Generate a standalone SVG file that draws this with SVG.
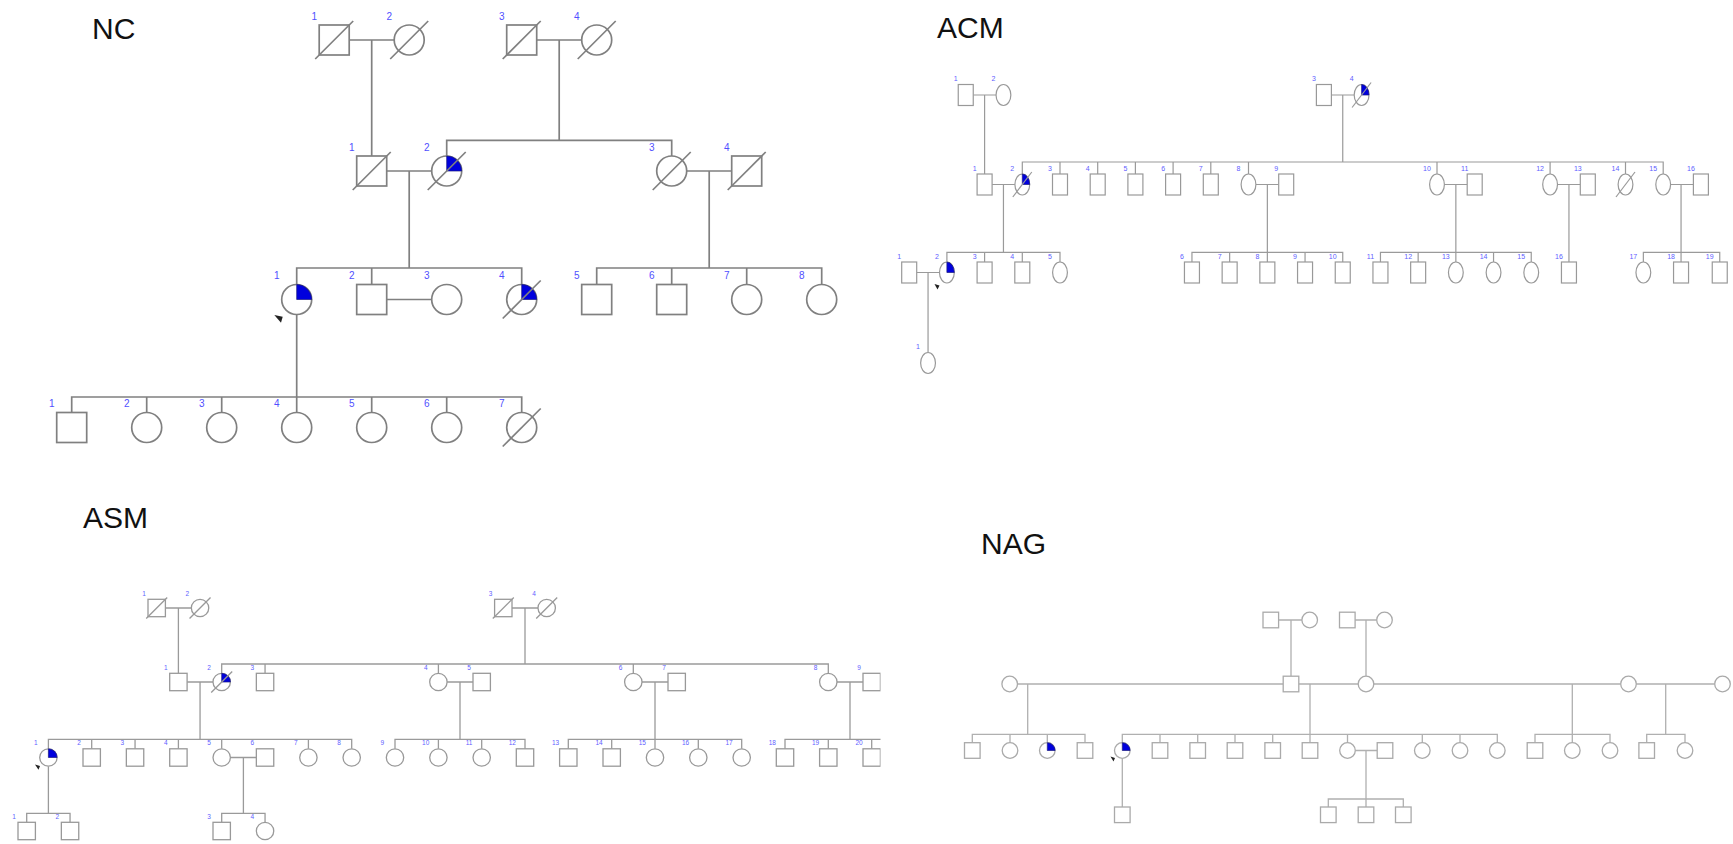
<svg xmlns="http://www.w3.org/2000/svg" xmlns:xlink="http://www.w3.org/1999/xlink" width="1733" height="844" viewBox="0 0 1733 844">
<style>
.title{font-family:"Liberation Sans",Arial,sans-serif;font-size:30px;fill:#111}
.cnc{fill:none;stroke:#808080;stroke-width:1.7}
.cac{fill:none;stroke:#9a9a9a;stroke-width:1.2}
.cas{fill:none;stroke:#9a9a9a;stroke-width:1.3}
.cng{fill:none;stroke:#b0b0b0;stroke-width:1.3}
.nc{fill:#fff;stroke:#808080;stroke-width:1.7}
.ac{fill:#fff;stroke:#999;stroke-width:1.2}
.as{fill:#fff;stroke:#999;stroke-width:1.3}
.ng{fill:#fff;stroke:#aaa;stroke-width:1.3}
.aff{fill:#0000dd;stroke:#1a1a80;stroke-width:0.7}
.pb{fill:#222}
.lnc{font-family:"Liberation Sans",Arial,sans-serif;font-size:10px;fill:#5050ff;text-anchor:middle}
.lac{font-family:"Liberation Sans",Arial,sans-serif;font-size:7px;fill:#6060ff;text-anchor:middle}
.las{font-family:"Liberation Sans",Arial,sans-serif;font-size:6.5px;fill:#6060ff;text-anchor:middle}
</style>
<defs>
<rect id="nS" x="-15" y="-15" width="30" height="30"/>
<circle id="nC" r="15"/>
<line id="nD" x1="-19" y1="19" x2="19" y2="-19"/>
<path id="nA" d="M0 0V-15A15 15 0 0 1 15 0Z"/>
<rect id="aS" x="-7.5" y="-10.5" width="15" height="21"/>
<ellipse id="aC" rx="7.4" ry="10.5"/>
<line id="aD" x1="-9.5" y1="12.5" x2="9.5" y2="-12.5"/>
<path id="aA" d="M0 0V-10.5A7.4 10.5 0 0 1 7.4 0Z"/>
<rect id="sS" x="-8.7" y="-8.7" width="17.4" height="17.4"/>
<circle id="sC" r="8.7"/>
<line id="sD" x1="-10.5" y1="10.5" x2="10.5" y2="-10.5"/>
<path id="sA" d="M0 0V-8.7A8.7 8.7 0 0 1 8.7 0Z"/>
<rect id="gS" x="-7.8" y="-7.8" width="15.6" height="15.6"/>
<circle id="gC" r="7.8"/>
<path id="gA" d="M0 0V-7.8A7.8 7.8 0 0 1 7.8 0Z"/>
<clipPath id="asmClip"><rect x="0" y="480" width="880.5" height="364"/></clipPath>
</defs>

<g id="titles">
<text class="title" x="92" y="39">NC</text>
<text class="title" x="937" y="38">ACM</text>
<text class="title" x="83" y="528">ASM</text>
<text class="title" x="981" y="554">NAG</text>
</g>

<g id="connectors">
<path class="cnc" d="M349.2 40H394.2M371.7 40V156M536.7 40H581.7M559.2 40V140.4M446.7 156V140.4H671.7V156M386.7 171H431.7M409.2 171V268M686.7 171H731.7M709.2 171V268M296.7 284.5V268H521.7V284.5M371.7 268V284.5M386.7 299.5H431.7M596.7 284.5V268H821.7V284.5M671.7 268V284.5M746.7 268V284.5M296.7 314.5V397M71.7 412.5V397H521.7V412.5M146.7 397V412.5M221.7 397V412.5M296.7 397V412.5M371.7 397V412.5M446.7 397V412.5"/>
<path class="cac" d="M973.25 95H996.05M984.6 95V174M1331.4 95H1354.2M1342.75 95V162M1022.3 174V162H1663.2V174M1060 162V174M1097.7 162V174M1135.4 162V174M1173.1 162V174M1210.8 162V174M1248.5 162V174M1437 162V174M1550.1 162V174M1625.5 162V174M992.1 184.5H1014.9M1255.9 184.5H1278.7M1444.4 184.5H1467.2M1557.5 184.5H1580.3M1670.6 184.5H1693.4M1003.45 184.5V252.3M1267.35 184.5V252.3M1455.85 184.5V252.3M1568.95 184.5V262M1681.05 184.5V252.3M946.9 262V252.3H1060V262M984.6 252.3V262M1022.3 252.3V262M1191.95 262V252.3H1342.75V262M1229.65 252.3V262M1267.35 252.3V262M1305.05 252.3V262M1380.45 262V252.3H1531.25V262M1418.15 252.3V262M1455.85 252.3V262M1493.55 252.3V262M1643.35 262V252.3H1719.75V262M1681.05 252.3V262M916.7 272.5H939.5M928.05 272.5V352.5"/>
<path class="cas" d="M165.4 608H191.35M178.4 608V673.3M512 608H538M525 608V664M221.7 673.3V664H828.3V673.3M265.05 664V673.3M438.4 664V673.3M633.3 664V673.3M187.1 682H213M447.1 682H473M642 682H668M837 682H863M200.05 682V739.3M460 682V739.3M655 682V739.3M850 682V739.3M48.4 748.8V739.3H351.7V748.8M91.7 739.3V748.8M135.05 739.3V748.8M178.4 739.3V748.8M221.7 739.3V748.8M308.4 739.3V748.8M395 748.8V739.3H525V748.8M438.4 739.3V748.8M481.7 739.3V748.8M568.3 748.8V739.3H741.7V748.8M611.7 739.3V748.8M655 739.3V748.8M698.3 739.3V748.8M230.4 757.5H256.35M243.4 757.5V813.3M48.4 766.2V813.3M26.7 822.3V813.3H70.05V822.3M221.7 822.3V813.3H265.05V822.3"/>
<path class="cas" clip-path="url(#asmClip)" d="M785 748.8V739.3H885M828.3 739.3V748.8M871.7 739.3V748.8"/>
<path class="cng" d="M1278.6 620H1301.9M1291 620V676.2M1355.1 620H1376.7M1366 620V676.2M1017.5 684H1283.2M1298.8 684H1358.2M1373.8 684H1620.7M1636.3 684H1714.7M1027.7 684V734.3M1310 684V734.3M1572.3 684V734.3M1665.7 684V734.3M972.3 742.7V734.3H1085V742.7M1010 734.3V742.7M1047.3 734.3V742.7M1122.3 742.7V734.3H1497.3V742.7M1160 734.3V742.7M1197.7 734.3V742.7M1235 734.3V742.7M1272.7 734.3V742.7M1310 734.3V742.7M1347.5 734.3V742.7M1422.3 734.3V742.7M1460 734.3V742.7M1535 742.7V734.3H1610V742.7M1572.3 734.3V742.7M1646.7 742.7V734.3H1685V742.7M1355.3 750.5H1377.2M1366 750.5V799M1328.3 807V799H1403.3V807M1366 799V807M1122.3 758.3V807"/>
</g>

<g id="NC">
<g id="nc-I-1"><use href="#nS" x="334.2" y="40" class="nc"/><use href="#nD" x="334.2" y="40" class="nc"/><text class="lnc" x="314.2" y="19.5">1</text></g>
<g id="nc-I-2"><use href="#nC" x="409.2" y="40" class="nc"/><use href="#nD" x="409.2" y="40" class="nc"/><text class="lnc" x="389.2" y="19.5">2</text></g>
<g id="nc-I-3"><use href="#nS" x="521.7" y="40" class="nc"/><use href="#nD" x="521.7" y="40" class="nc"/><text class="lnc" x="501.7" y="19.5">3</text></g>
<g id="nc-I-4"><use href="#nC" x="596.7" y="40" class="nc"/><use href="#nD" x="596.7" y="40" class="nc"/><text class="lnc" x="576.7" y="19.5">4</text></g>
<g id="nc-II-1"><use href="#nS" x="371.7" y="171" class="nc"/><use href="#nD" x="371.7" y="171" class="nc"/><text class="lnc" x="351.7" y="150.5">1</text></g>
<g id="nc-II-2"><use href="#nC" x="446.7" y="171" class="nc"/><use href="#nA" x="446.7" y="171" class="aff"/><use href="#nD" x="446.7" y="171" class="nc"/><text class="lnc" x="426.7" y="150.5">2</text></g>
<g id="nc-II-3"><use href="#nC" x="671.7" y="171" class="nc"/><use href="#nD" x="671.7" y="171" class="nc"/><text class="lnc" x="651.7" y="150.5">3</text></g>
<g id="nc-II-4"><use href="#nS" x="746.7" y="171" class="nc"/><use href="#nD" x="746.7" y="171" class="nc"/><text class="lnc" x="726.7" y="150.5">4</text></g>
<g id="nc-III-1"><use href="#nC" x="296.7" y="299.5" class="nc"/><use href="#nA" x="296.7" y="299.5" class="aff"/><polygon class="pb" points="274.3,315 282.7,316.7 281,322.7"/><text class="lnc" x="276.7" y="278.5">1</text></g>
<g id="nc-III-2"><use href="#nS" x="371.7" y="299.5" class="nc"/><text class="lnc" x="351.7" y="278.5">2</text></g>
<g id="nc-III-3"><use href="#nC" x="446.7" y="299.5" class="nc"/><text class="lnc" x="426.7" y="278.5">3</text></g>
<g id="nc-III-4"><use href="#nC" x="521.7" y="299.5" class="nc"/><use href="#nA" x="521.7" y="299.5" class="aff"/><use href="#nD" x="521.7" y="299.5" class="nc"/><text class="lnc" x="501.7" y="278.5">4</text></g>
<g id="nc-III-5"><use href="#nS" x="596.7" y="299.5" class="nc"/><text class="lnc" x="576.7" y="278.5">5</text></g>
<g id="nc-III-6"><use href="#nS" x="671.7" y="299.5" class="nc"/><text class="lnc" x="651.7" y="278.5">6</text></g>
<g id="nc-III-7"><use href="#nC" x="746.7" y="299.5" class="nc"/><text class="lnc" x="726.7" y="278.5">7</text></g>
<g id="nc-III-8"><use href="#nC" x="821.7" y="299.5" class="nc"/><text class="lnc" x="801.7" y="278.5">8</text></g>
<g id="nc-IV-1"><use href="#nS" x="71.7" y="427.5" class="nc"/><text class="lnc" x="51.7" y="406.5">1</text></g>
<g id="nc-IV-2"><use href="#nC" x="146.7" y="427.5" class="nc"/><text class="lnc" x="126.7" y="406.5">2</text></g>
<g id="nc-IV-3"><use href="#nC" x="221.7" y="427.5" class="nc"/><text class="lnc" x="201.7" y="406.5">3</text></g>
<g id="nc-IV-4"><use href="#nC" x="296.7" y="427.5" class="nc"/><text class="lnc" x="276.7" y="406.5">4</text></g>
<g id="nc-IV-5"><use href="#nC" x="371.7" y="427.5" class="nc"/><text class="lnc" x="351.7" y="406.5">5</text></g>
<g id="nc-IV-6"><use href="#nC" x="446.7" y="427.5" class="nc"/><text class="lnc" x="426.7" y="406.5">6</text></g>
<g id="nc-IV-7"><use href="#nC" x="521.7" y="427.5" class="nc"/><use href="#nD" x="521.7" y="427.5" class="nc"/><text class="lnc" x="501.7" y="406.5">7</text></g>
</g>

<g id="ACM">
<g id="acm-I-1"><use href="#aS" x="965.75" y="95" class="ac"/><text class="lac" x="955.75" y="81">1</text></g>
<g id="acm-I-2"><use href="#aC" x="1003.45" y="95" class="ac"/><text class="lac" x="993.45" y="81">2</text></g>
<g id="acm-I-3"><use href="#aS" x="1323.9" y="95" class="ac"/><text class="lac" x="1313.9" y="81">3</text></g>
<g id="acm-I-4"><use href="#aC" x="1361.6" y="95" class="ac"/><use href="#aA" x="1361.6" y="95" class="aff"/><use href="#aD" x="1361.6" y="95" class="ac"/><text class="lac" x="1351.6" y="81">4</text></g>
<g id="acm-II-1"><use href="#aS" x="984.6" y="184.5" class="ac"/><text class="lac" x="974.6" y="170.5">1</text></g>
<g id="acm-II-2"><use href="#aC" x="1022.3" y="184.5" class="ac"/><use href="#aA" x="1022.3" y="184.5" class="aff"/><use href="#aD" x="1022.3" y="184.5" class="ac"/><text class="lac" x="1012.3" y="170.5">2</text></g>
<g id="acm-II-3"><use href="#aS" x="1060" y="184.5" class="ac"/><text class="lac" x="1050" y="170.5">3</text></g>
<g id="acm-II-4"><use href="#aS" x="1097.7" y="184.5" class="ac"/><text class="lac" x="1087.7" y="170.5">4</text></g>
<g id="acm-II-5"><use href="#aS" x="1135.4" y="184.5" class="ac"/><text class="lac" x="1125.4" y="170.5">5</text></g>
<g id="acm-II-6"><use href="#aS" x="1173.1" y="184.5" class="ac"/><text class="lac" x="1163.1" y="170.5">6</text></g>
<g id="acm-II-7"><use href="#aS" x="1210.8" y="184.5" class="ac"/><text class="lac" x="1200.8" y="170.5">7</text></g>
<g id="acm-II-8"><use href="#aC" x="1248.5" y="184.5" class="ac"/><text class="lac" x="1238.5" y="170.5">8</text></g>
<g id="acm-II-9"><use href="#aS" x="1286.2" y="184.5" class="ac"/><text class="lac" x="1276.2" y="170.5">9</text></g>
<g id="acm-II-10"><use href="#aC" x="1437" y="184.5" class="ac"/><text class="lac" x="1427" y="170.5">10</text></g>
<g id="acm-II-11"><use href="#aS" x="1474.7" y="184.5" class="ac"/><text class="lac" x="1464.7" y="170.5">11</text></g>
<g id="acm-II-12"><use href="#aC" x="1550.1" y="184.5" class="ac"/><text class="lac" x="1540.1" y="170.5">12</text></g>
<g id="acm-II-13"><use href="#aS" x="1587.8" y="184.5" class="ac"/><text class="lac" x="1577.8" y="170.5">13</text></g>
<g id="acm-II-14"><use href="#aC" x="1625.5" y="184.5" class="ac"/><use href="#aD" x="1625.5" y="184.5" class="ac"/><text class="lac" x="1615.5" y="170.5">14</text></g>
<g id="acm-II-15"><use href="#aC" x="1663.2" y="184.5" class="ac"/><text class="lac" x="1653.2" y="170.5">15</text></g>
<g id="acm-II-16"><use href="#aS" x="1700.9" y="184.5" class="ac"/><text class="lac" x="1690.9" y="170.5">16</text></g>
<g id="acm-III-1"><use href="#aS" x="909.2" y="272.5" class="ac"/><text class="lac" x="899.2" y="258.5">1</text></g>
<g id="acm-III-2"><use href="#aC" x="946.9" y="272.5" class="ac"/><use href="#aA" x="946.9" y="272.5" class="aff"/><polygon class="pb" points="934.5,284 939.5,285.5 937.5,289.5"/><text class="lac" x="936.9" y="258.5">2</text></g>
<g id="acm-III-3"><use href="#aS" x="984.6" y="272.5" class="ac"/><text class="lac" x="974.6" y="258.5">3</text></g>
<g id="acm-III-4"><use href="#aS" x="1022.3" y="272.5" class="ac"/><text class="lac" x="1012.3" y="258.5">4</text></g>
<g id="acm-III-5"><use href="#aC" x="1060" y="272.5" class="ac"/><text class="lac" x="1050" y="258.5">5</text></g>
<g id="acm-III-6"><use href="#aS" x="1191.95" y="272.5" class="ac"/><text class="lac" x="1181.95" y="258.5">6</text></g>
<g id="acm-III-7"><use href="#aS" x="1229.65" y="272.5" class="ac"/><text class="lac" x="1219.65" y="258.5">7</text></g>
<g id="acm-III-8"><use href="#aS" x="1267.35" y="272.5" class="ac"/><text class="lac" x="1257.35" y="258.5">8</text></g>
<g id="acm-III-9"><use href="#aS" x="1305.05" y="272.5" class="ac"/><text class="lac" x="1295.05" y="258.5">9</text></g>
<g id="acm-III-10"><use href="#aS" x="1342.75" y="272.5" class="ac"/><text class="lac" x="1332.75" y="258.5">10</text></g>
<g id="acm-III-11"><use href="#aS" x="1380.45" y="272.5" class="ac"/><text class="lac" x="1370.45" y="258.5">11</text></g>
<g id="acm-III-12"><use href="#aS" x="1418.15" y="272.5" class="ac"/><text class="lac" x="1408.15" y="258.5">12</text></g>
<g id="acm-III-13"><use href="#aC" x="1455.85" y="272.5" class="ac"/><text class="lac" x="1445.85" y="258.5">13</text></g>
<g id="acm-III-14"><use href="#aC" x="1493.55" y="272.5" class="ac"/><text class="lac" x="1483.55" y="258.5">14</text></g>
<g id="acm-III-15"><use href="#aC" x="1531.25" y="272.5" class="ac"/><text class="lac" x="1521.25" y="258.5">15</text></g>
<g id="acm-III-16"><use href="#aS" x="1568.95" y="272.5" class="ac"/><text class="lac" x="1558.95" y="258.5">16</text></g>
<g id="acm-III-17"><use href="#aC" x="1643.35" y="272.5" class="ac"/><text class="lac" x="1633.35" y="258.5">17</text></g>
<g id="acm-III-18"><use href="#aS" x="1681.05" y="272.5" class="ac"/><text class="lac" x="1671.05" y="258.5">18</text></g>
<g id="acm-III-19"><use href="#aS" x="1719.75" y="272.5" class="ac"/><text class="lac" x="1709.75" y="258.5">19</text></g>
<g id="acm-IV-1"><use href="#aC" x="928.05" y="363" class="ac"/><text class="lac" x="918.05" y="348.5">1</text></g>
</g>

<g id="ASM">
<g id="asm-I-1"><use href="#sS" x="156.7" y="608" class="as"/><use href="#sD" x="156.7" y="608" class="as"/><text class="las" x="144" y="595.8">1</text></g>
<g id="asm-I-2"><use href="#sC" x="200.05" y="608" class="as"/><use href="#sD" x="200.05" y="608" class="as"/><text class="las" x="187.35" y="595.8">2</text></g>
<g id="asm-I-3"><use href="#sS" x="503.3" y="608" class="as"/><use href="#sD" x="503.3" y="608" class="as"/><text class="las" x="490.6" y="595.8">3</text></g>
<g id="asm-I-4"><use href="#sC" x="546.7" y="608" class="as"/><use href="#sD" x="546.7" y="608" class="as"/><text class="las" x="534" y="595.8">4</text></g>
<g id="asm-II-1"><use href="#sS" x="178.4" y="682" class="as"/><text class="las" x="165.7" y="669.8">1</text></g>
<g id="asm-II-2"><use href="#sC" x="221.7" y="682" class="as"/><use href="#sA" x="221.7" y="682" class="aff"/><use href="#sD" x="221.7" y="682" class="as"/><text class="las" x="209" y="669.8">2</text></g>
<g id="asm-II-3"><use href="#sS" x="265.05" y="682" class="as"/><text class="las" x="252.35" y="669.8">3</text></g>
<g id="asm-II-4"><use href="#sC" x="438.4" y="682" class="as"/><text class="las" x="425.7" y="669.8">4</text></g>
<g id="asm-II-5"><use href="#sS" x="481.7" y="682" class="as"/><text class="las" x="469" y="669.8">5</text></g>
<g id="asm-II-6"><use href="#sC" x="633.3" y="682" class="as"/><text class="las" x="620.6" y="669.8">6</text></g>
<g id="asm-II-7"><use href="#sS" x="676.7" y="682" class="as"/><text class="las" x="664" y="669.8">7</text></g>
<g id="asm-II-8"><use href="#sC" x="828.3" y="682" class="as"/><text class="las" x="815.6" y="669.8">8</text></g>
<g id="asm-II-9" clip-path="url(#asmClip)"><use href="#sS" x="871.7" y="682" class="as"/><text class="las" x="859" y="669.8">9</text></g>
<g id="asm-III-1"><use href="#sC" x="48.4" y="757.5" class="as"/><use href="#sA" x="48.4" y="757.5" class="aff"/><polygon class="pb" points="35,764.5 40,766 38.5,769.8"/><text class="las" x="35.7" y="745.3">1</text></g>
<g id="asm-III-2"><use href="#sS" x="91.7" y="757.5" class="as"/><text class="las" x="79" y="745.3">2</text></g>
<g id="asm-III-3"><use href="#sS" x="135.05" y="757.5" class="as"/><text class="las" x="122.35" y="745.3">3</text></g>
<g id="asm-III-4"><use href="#sS" x="178.4" y="757.5" class="as"/><text class="las" x="165.7" y="745.3">4</text></g>
<g id="asm-III-5"><use href="#sC" x="221.7" y="757.5" class="as"/><text class="las" x="209" y="745.3">5</text></g>
<g id="asm-III-6"><use href="#sS" x="265.05" y="757.5" class="as"/><text class="las" x="252.35" y="745.3">6</text></g>
<g id="asm-III-7"><use href="#sC" x="308.4" y="757.5" class="as"/><text class="las" x="295.7" y="745.3">7</text></g>
<g id="asm-III-8"><use href="#sC" x="351.7" y="757.5" class="as"/><text class="las" x="339" y="745.3">8</text></g>
<g id="asm-III-9"><use href="#sC" x="395" y="757.5" class="as"/><text class="las" x="382.3" y="745.3">9</text></g>
<g id="asm-III-10"><use href="#sC" x="438.4" y="757.5" class="as"/><text class="las" x="425.7" y="745.3">10</text></g>
<g id="asm-III-11"><use href="#sC" x="481.7" y="757.5" class="as"/><text class="las" x="469" y="745.3">11</text></g>
<g id="asm-III-12"><use href="#sS" x="525" y="757.5" class="as"/><text class="las" x="512.3" y="745.3">12</text></g>
<g id="asm-III-13"><use href="#sS" x="568.3" y="757.5" class="as"/><text class="las" x="555.6" y="745.3">13</text></g>
<g id="asm-III-14"><use href="#sS" x="611.7" y="757.5" class="as"/><text class="las" x="599" y="745.3">14</text></g>
<g id="asm-III-15"><use href="#sC" x="655" y="757.5" class="as"/><text class="las" x="642.3" y="745.3">15</text></g>
<g id="asm-III-16"><use href="#sC" x="698.3" y="757.5" class="as"/><text class="las" x="685.6" y="745.3">16</text></g>
<g id="asm-III-17"><use href="#sC" x="741.7" y="757.5" class="as"/><text class="las" x="729" y="745.3">17</text></g>
<g id="asm-III-18"><use href="#sS" x="785" y="757.5" class="as"/><text class="las" x="772.3" y="745.3">18</text></g>
<g id="asm-III-19"><use href="#sS" x="828.3" y="757.5" class="as"/><text class="las" x="815.6" y="745.3">19</text></g>
<g id="asm-III-20" clip-path="url(#asmClip)"><use href="#sS" x="871.7" y="757.5" class="as"/><text class="las" x="859" y="745.3">20</text></g>
<g id="asm-IV-1"><use href="#sS" x="26.7" y="831" class="as"/><text class="las" x="14" y="818.8">1</text></g>
<g id="asm-IV-2"><use href="#sS" x="70.05" y="831" class="as"/><text class="las" x="57.35" y="818.8">2</text></g>
<g id="asm-IV-3"><use href="#sS" x="221.7" y="831" class="as"/><text class="las" x="209" y="818.8">3</text></g>
<g id="asm-IV-4"><use href="#sC" x="265.05" y="831" class="as"/><text class="las" x="252.35" y="818.8">4</text></g>
</g>

<g id="NAG">
<g id="nag-I-1"><use href="#gS" x="1270.8" y="620" class="ng"/></g>
<g id="nag-I-2"><use href="#gC" x="1309.7" y="620" class="ng"/></g>
<g id="nag-I-3"><use href="#gS" x="1347.3" y="620" class="ng"/></g>
<g id="nag-I-4"><use href="#gC" x="1384.5" y="620" class="ng"/></g>
<g id="nag-II-1"><use href="#gC" x="1009.7" y="684" class="ng"/></g>
<g id="nag-II-2"><use href="#gS" x="1291" y="684" class="ng"/></g>
<g id="nag-II-3"><use href="#gC" x="1366" y="684" class="ng"/></g>
<g id="nag-II-4"><use href="#gC" x="1628.5" y="684" class="ng"/></g>
<g id="nag-II-5"><use href="#gC" x="1722.5" y="684" class="ng"/></g>
<g id="nag-III-1"><use href="#gS" x="972.3" y="750.5" class="ng"/></g>
<g id="nag-III-2"><use href="#gC" x="1010" y="750.5" class="ng"/></g>
<g id="nag-III-3"><use href="#gC" x="1047.3" y="750.5" class="ng"/><use href="#gA" x="1047.3" y="750.5" class="aff"/></g>
<g id="nag-III-4"><use href="#gS" x="1085" y="750.5" class="ng"/></g>
<g id="nag-III-5"><use href="#gC" x="1122.3" y="750.5" class="ng"/><use href="#gA" x="1122.3" y="750.5" class="aff"/><polygon class="pb" points="1110.5,756.5 1115,758 1113.5,761.5"/></g>
<g id="nag-III-6"><use href="#gS" x="1160" y="750.5" class="ng"/></g>
<g id="nag-III-7"><use href="#gS" x="1197.7" y="750.5" class="ng"/></g>
<g id="nag-III-8"><use href="#gS" x="1235" y="750.5" class="ng"/></g>
<g id="nag-III-9"><use href="#gS" x="1272.7" y="750.5" class="ng"/></g>
<g id="nag-III-10"><use href="#gS" x="1310" y="750.5" class="ng"/></g>
<g id="nag-III-11"><use href="#gC" x="1347.5" y="750.5" class="ng"/></g>
<g id="nag-III-12"><use href="#gS" x="1385" y="750.5" class="ng"/></g>
<g id="nag-III-13"><use href="#gC" x="1422.3" y="750.5" class="ng"/></g>
<g id="nag-III-14"><use href="#gC" x="1460" y="750.5" class="ng"/></g>
<g id="nag-III-15"><use href="#gC" x="1497.3" y="750.5" class="ng"/></g>
<g id="nag-III-16"><use href="#gS" x="1535" y="750.5" class="ng"/></g>
<g id="nag-III-17"><use href="#gC" x="1572.3" y="750.5" class="ng"/></g>
<g id="nag-III-18"><use href="#gC" x="1610" y="750.5" class="ng"/></g>
<g id="nag-III-19"><use href="#gS" x="1646.7" y="750.5" class="ng"/></g>
<g id="nag-III-20"><use href="#gC" x="1685" y="750.5" class="ng"/></g>
<g id="nag-IV-1"><use href="#gS" x="1122.3" y="814.8" class="ng"/></g>
<g id="nag-IV-2"><use href="#gS" x="1328.3" y="814.8" class="ng"/></g>
<g id="nag-IV-3"><use href="#gS" x="1366" y="814.8" class="ng"/></g>
<g id="nag-IV-4"><use href="#gS" x="1403.3" y="814.8" class="ng"/></g>
</g>
</svg>
